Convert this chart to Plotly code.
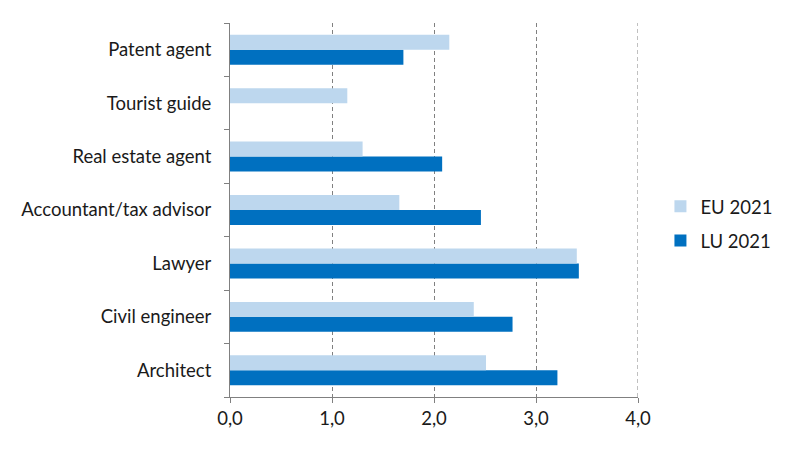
import plotly.graph_objects as go

categories = ["Architect", "Civil engineer", "Lawyer", "Accountant/tax advisor",
              "Real estate agent", "Tourist guide", "Patent agent"]
eu_2021 = [2.51, 2.39, 3.40, 1.66, 1.30, 1.15, 2.15]
lu_2021 = [3.21, 2.77, 3.42, 2.46, 2.08, None, 1.70]
x_ticks = [0, 1, 2, 3, 4]

fig = go.Figure()
fig.add_trace(go.Bar(y=categories, x=lu_2021, name="LU 2021", orientation="h",
                     legendgroup="lu", legendrank=2,
                     marker=dict(color="#0070C0", line=dict(width=0))))
fig.add_trace(go.Bar(y=categories, x=eu_2021, name="EU 2021", orientation="h",
                     legendgroup="eu", legendrank=1,
                     marker=dict(color="#BDD7EE", line=dict(width=0))))

grid_dash = "4px,3px"
# gridline at the axis end (Plotly skips the grid line on the range edge)
fig.add_shape(type="line", xref="x", yref="paper", x0=x_ticks[-1], x1=x_ticks[-1],
              y0=0, y1=1, line=dict(color="#808080", width=1, dash=grid_dash), layer="below")

font = "Lato, 'Open Sans', sans-serif"
fig.update_layout(
    width=792, height=450,
    margin=dict(l=222, r=162, t=15, b=61, autoexpand=False),
    paper_bgcolor="white", plot_bgcolor="white",
    barmode="group", bargap=0.44, bargroupgap=0,
    separators=",.",
    font=dict(family=font, size=18.5, color="#1a1a1a"),
    showlegend=True,
    legend=dict(traceorder="grouped", x=1.055, xanchor="left", y=0.463, yanchor="middle",
                font=dict(size=18.5), itemwidth=30, tracegroupgap=7, bgcolor="rgba(0,0,0,0)"),
    xaxis=dict(range=[0, 4], tickvals=x_ticks, tickformat=".1f",
               showgrid=True, gridcolor="#808080", griddash=grid_dash, gridwidth=1,
               showline=True, linecolor="#808080", linewidth=1,
               ticks="outside", ticklen=5, tickcolor="#808080",
               zeroline=False, fixedrange=True, automargin=False),
    yaxis=dict(showline=True, linecolor="#808080", linewidth=1,
               ticks="outside", ticklen=5, tickcolor="#808080", tickson="boundaries",
               showgrid=False, ticklabelstandoff=14, fixedrange=True, automargin=False),
)
fig.write_html("out.html")
